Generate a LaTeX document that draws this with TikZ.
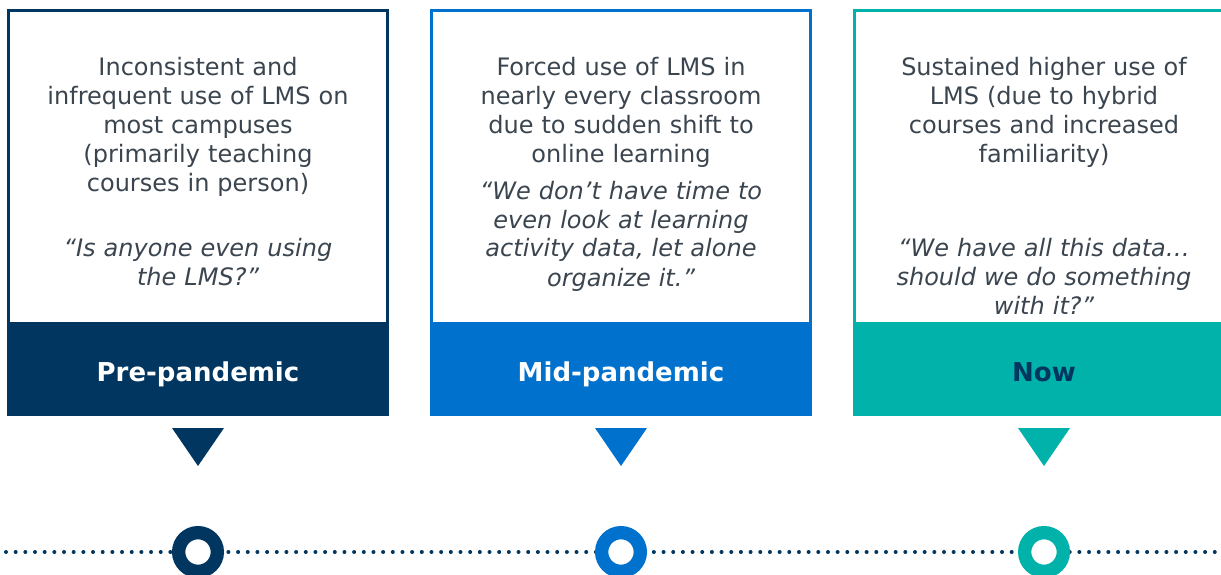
\documentclass[tikz,border=0pt]{standalone}
\usepackage{fontspec}
\setmainfont{DejaVu Sans}
\usepackage{tikz}
\usepackage{xcolor}
\usetikzlibrary{positioning}
\tikzset{c-box/.style={rectangle, line width=3pt, fill=white, minimum width=379pt, minimum height=312.5pt, inner sep=0pt, outer sep=0pt},
c-band/.style={rectangle, minimum width=382pt, minimum height=93pt, inner sep=0pt, outer sep=0pt, text height=24pt, text depth=0pt, font=\bfseries\fontsize{26}{31}\selectfont},
c-text/.style={text width=360pt, align=center, inner sep=0pt, anchor=base, text=c_text, font=\fontsize{24}{29}\selectfont},
c-quote/.style={c-text, font=\itshape\fontsize{24}{29}\selectfont},
c-ring/.style={circle, line width=13.3pt, fill=white, minimum size=38.7pt, inner sep=0pt, outer sep=0pt},
dots/.style={draw=c_pre, line width=4pt, line cap=round, dash pattern=on 0pt off 9.67pt}}
\definecolor{c_pre}{RGB}{0,54,96}
\definecolor{c_mid}{RGB}{0,114,206}
\definecolor{c_now}{RGB}{0,178,169}
\definecolor{c_text}{RGB}{59,69,79}

\begin{document}
\begin{tikzpicture}[x=1pt, y=-1pt, node distance=44pt]
\useasboundingbox (0,0) rectangle (1221,575);
\node (b0) [c-box, draw=c_pre] at (198,166.75) {};
\node (b1) [c-box, draw=c_mid, right=of b0] {};
\node (b2) [c-box, draw=c_now, right=of b1] {};
\node (k0) [c-band, fill=c_pre, text=white, below=0pt of b0] {Pre-pandemic};
\node (k1) [c-band, fill=c_mid, text=white, below=0pt of b1] {Mid-pandemic};
\node (k2) [c-band, fill=c_now, text=c_pre, below=0pt of b2] {Now};
\node (d0) [c-text] at ([yshift=-65pt]b0.north) {
Inconsistent and\\
infrequent use of LMS on\\
most campuses\\
(primarily teaching\\
courses in person)
};
\node (q0) [c-quote] at ([yshift=-245.5pt]b0.north) {
“Is anyone even using\\
the LMS?”
};
\node (d1) [c-text] at ([yshift=-65pt]b1.north) {
Forced use of LMS in\\
nearly every classroom\\
due to sudden shift to\\
online learning
};
\node (q1) [c-quote] at ([yshift=-188.5pt]b1.north) {
“We don’t have time to\\
even look at learning\\
activity data, let alone\\
organize it.”
};
\node (d2) [c-text] at ([yshift=-65pt]b2.north) {
Sustained higher use of\\
LMS (due to hybrid\\
courses and increased\\
familiarity)
};
\node (q2) [c-quote] at ([yshift=-245.5pt]b2.north) {
“We have all this data…\\
should we do something\\
with it?”
};
\fill [c_pre] (k0.south) ++(-26,12) -- ++(52,0) -- ++(-26,38) -- cycle;
\fill [c_mid] (k1.south) ++(-26,12) -- ++(52,0) -- ++(-26,38) -- cycle;
\fill [c_now] (k2.south) ++(-26,12) -- ++(52,0) -- ++(-26,38) -- cycle;
\coordinate (tl) at (6,552);
\coordinate (tr) at (1221,552);
\draw [dots] (tl) -- (tr);
\node (c0) [c-ring, draw=c_pre, below=116.65pt of k0] {};
\node (c1) [c-ring, draw=c_mid, below=116.65pt of k1] {};
\node (c2) [c-ring, draw=c_now, below=116.65pt of k2] {};
\end{tikzpicture}
\end{document}
